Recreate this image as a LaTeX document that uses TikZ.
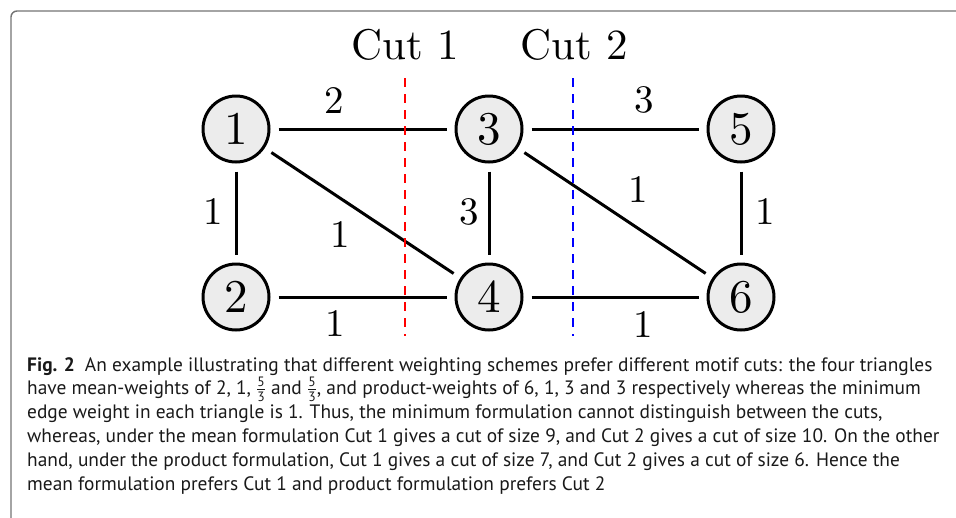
\documentclass[tikz,border=0pt]{standalone}
\usepackage{amsmath}
\usepackage{fontspec}
\newfontfamily\capfont{PT Sans}
\newfontfamily\lmten{lmroman10-regular.otf}
\begin{document}
\begin{tikzpicture}[x=1pt,y=-1pt,
  vtx/.style={circle,draw,line width=3pt,fill=gray!15,minimum size=66pt,inner sep=0pt,font=\lmten\fontsize{47}{47}\selectfont},
  edge/.style={line width=3pt,shorten >=8pt,shorten <=8pt},
  wlabel/.style={inner sep=0pt,font=\lmten\fontsize{39}{39}\selectfont},
  cutlbl/.style={inner sep=0pt,anchor=base,font=\lmten\fontsize{43}{43}\selectfont},
  cutline/.style={line width=2.5pt,dash pattern=on 9pt off 7pt},
  capline/.style={anchor=base west,inner sep=0pt,text=black!90,font=\capfont\fontsize{19.4}{24}\selectfont}]
\clip (0,0) rectangle (956,517);
\draw[black!55,line width=1.4pt,rounded corners=6pt] (11,540) |- (980,11);
% vertices
\node[vtx] (n1) at (236,129) {1};
\node[vtx] (n3) at (489,129) {3};
\node[vtx] (n5) at (741,129) {5};
\node[vtx] (n2) at (236,297) {2};
\node[vtx] (n4) at (489,297) {4};
\node[vtx] (n6) at (741,297) {6};
% edges
\draw[edge] (n1) -- (n3);
\draw[edge] (n3) -- (n5);
\draw[edge] (n1) -- (n2);
\draw[edge] (n3) -- (n4);
\draw[edge] (n5) -- (n6);
\draw[edge] (n2) -- (n4);
\draw[edge] (n4) -- (n6);
\draw[edge] (n1) -- (n4);
\draw[edge] (n3) -- (n6);
% weights
\node[wlabel] (w13) at (334,101) {2};
\node[wlabel] (w35) at (644,100) {3};
\node[wlabel] (w12) at (213,212) {1};
\node[wlabel] (w14) at (340,235) {1};
\node[wlabel] (w24) at (335,324) {1};
\node[wlabel] (w34) at (469,212) {3};
\node[wlabel] (w36) at (638,190) {1};
\node[wlabel] (w56) at (765,212) {1};
\node[wlabel] (w46) at (643,325) {1};
% cuts
\coordinate (c1t) at (405,78);
\coordinate (c1b) at (405,336);
\coordinate (c2t) at (573,78);
\coordinate (c2b) at (573,336);
\draw[cutline,red] (c1t) -- (c1b);
\draw[cutline,blue] (c2t) -- (c2b);
\node[cutlbl] (cut1) at (405,59) {Cut 1};
\node[cutlbl] (cut2) at (574,59) {Cut 2};
% caption
\node[capline] (l1) at (27,371) {\textbf{Fig. 2}\hspace{10pt}An example illustrating that different weighting schemes prefer different motif cuts: the four triangles};
\node[capline] (l2) at (27,394.8) {have mean-weights of 2, 1, $\frac{\text{5}}{\text{3}}$ and $\frac{\text{5}}{\text{3}}$, and product-weights of 6, 1, 3 and 3 respectively whereas the minimum};
\node[capline] (l3) at (27,418.6) {edge weight in each triangle is 1. Thus, the minimum formulation cannot distinguish between the cuts,};
\node[capline] (l4) at (27,442.4) {whereas, under the mean formulation Cut 1 gives a cut of size 9, and Cut 2 gives a cut of size 10. On the other};
\node[capline] (l5) at (27,466.2) {hand, under the product formulation, Cut 1 gives a cut of size 7, and Cut 2 gives a cut of size 6. Hence the};
\node[capline] (l6) at (27,490) {mean formulation prefers Cut 1 and product formulation prefers Cut 2};
\end{tikzpicture}
\end{document}
